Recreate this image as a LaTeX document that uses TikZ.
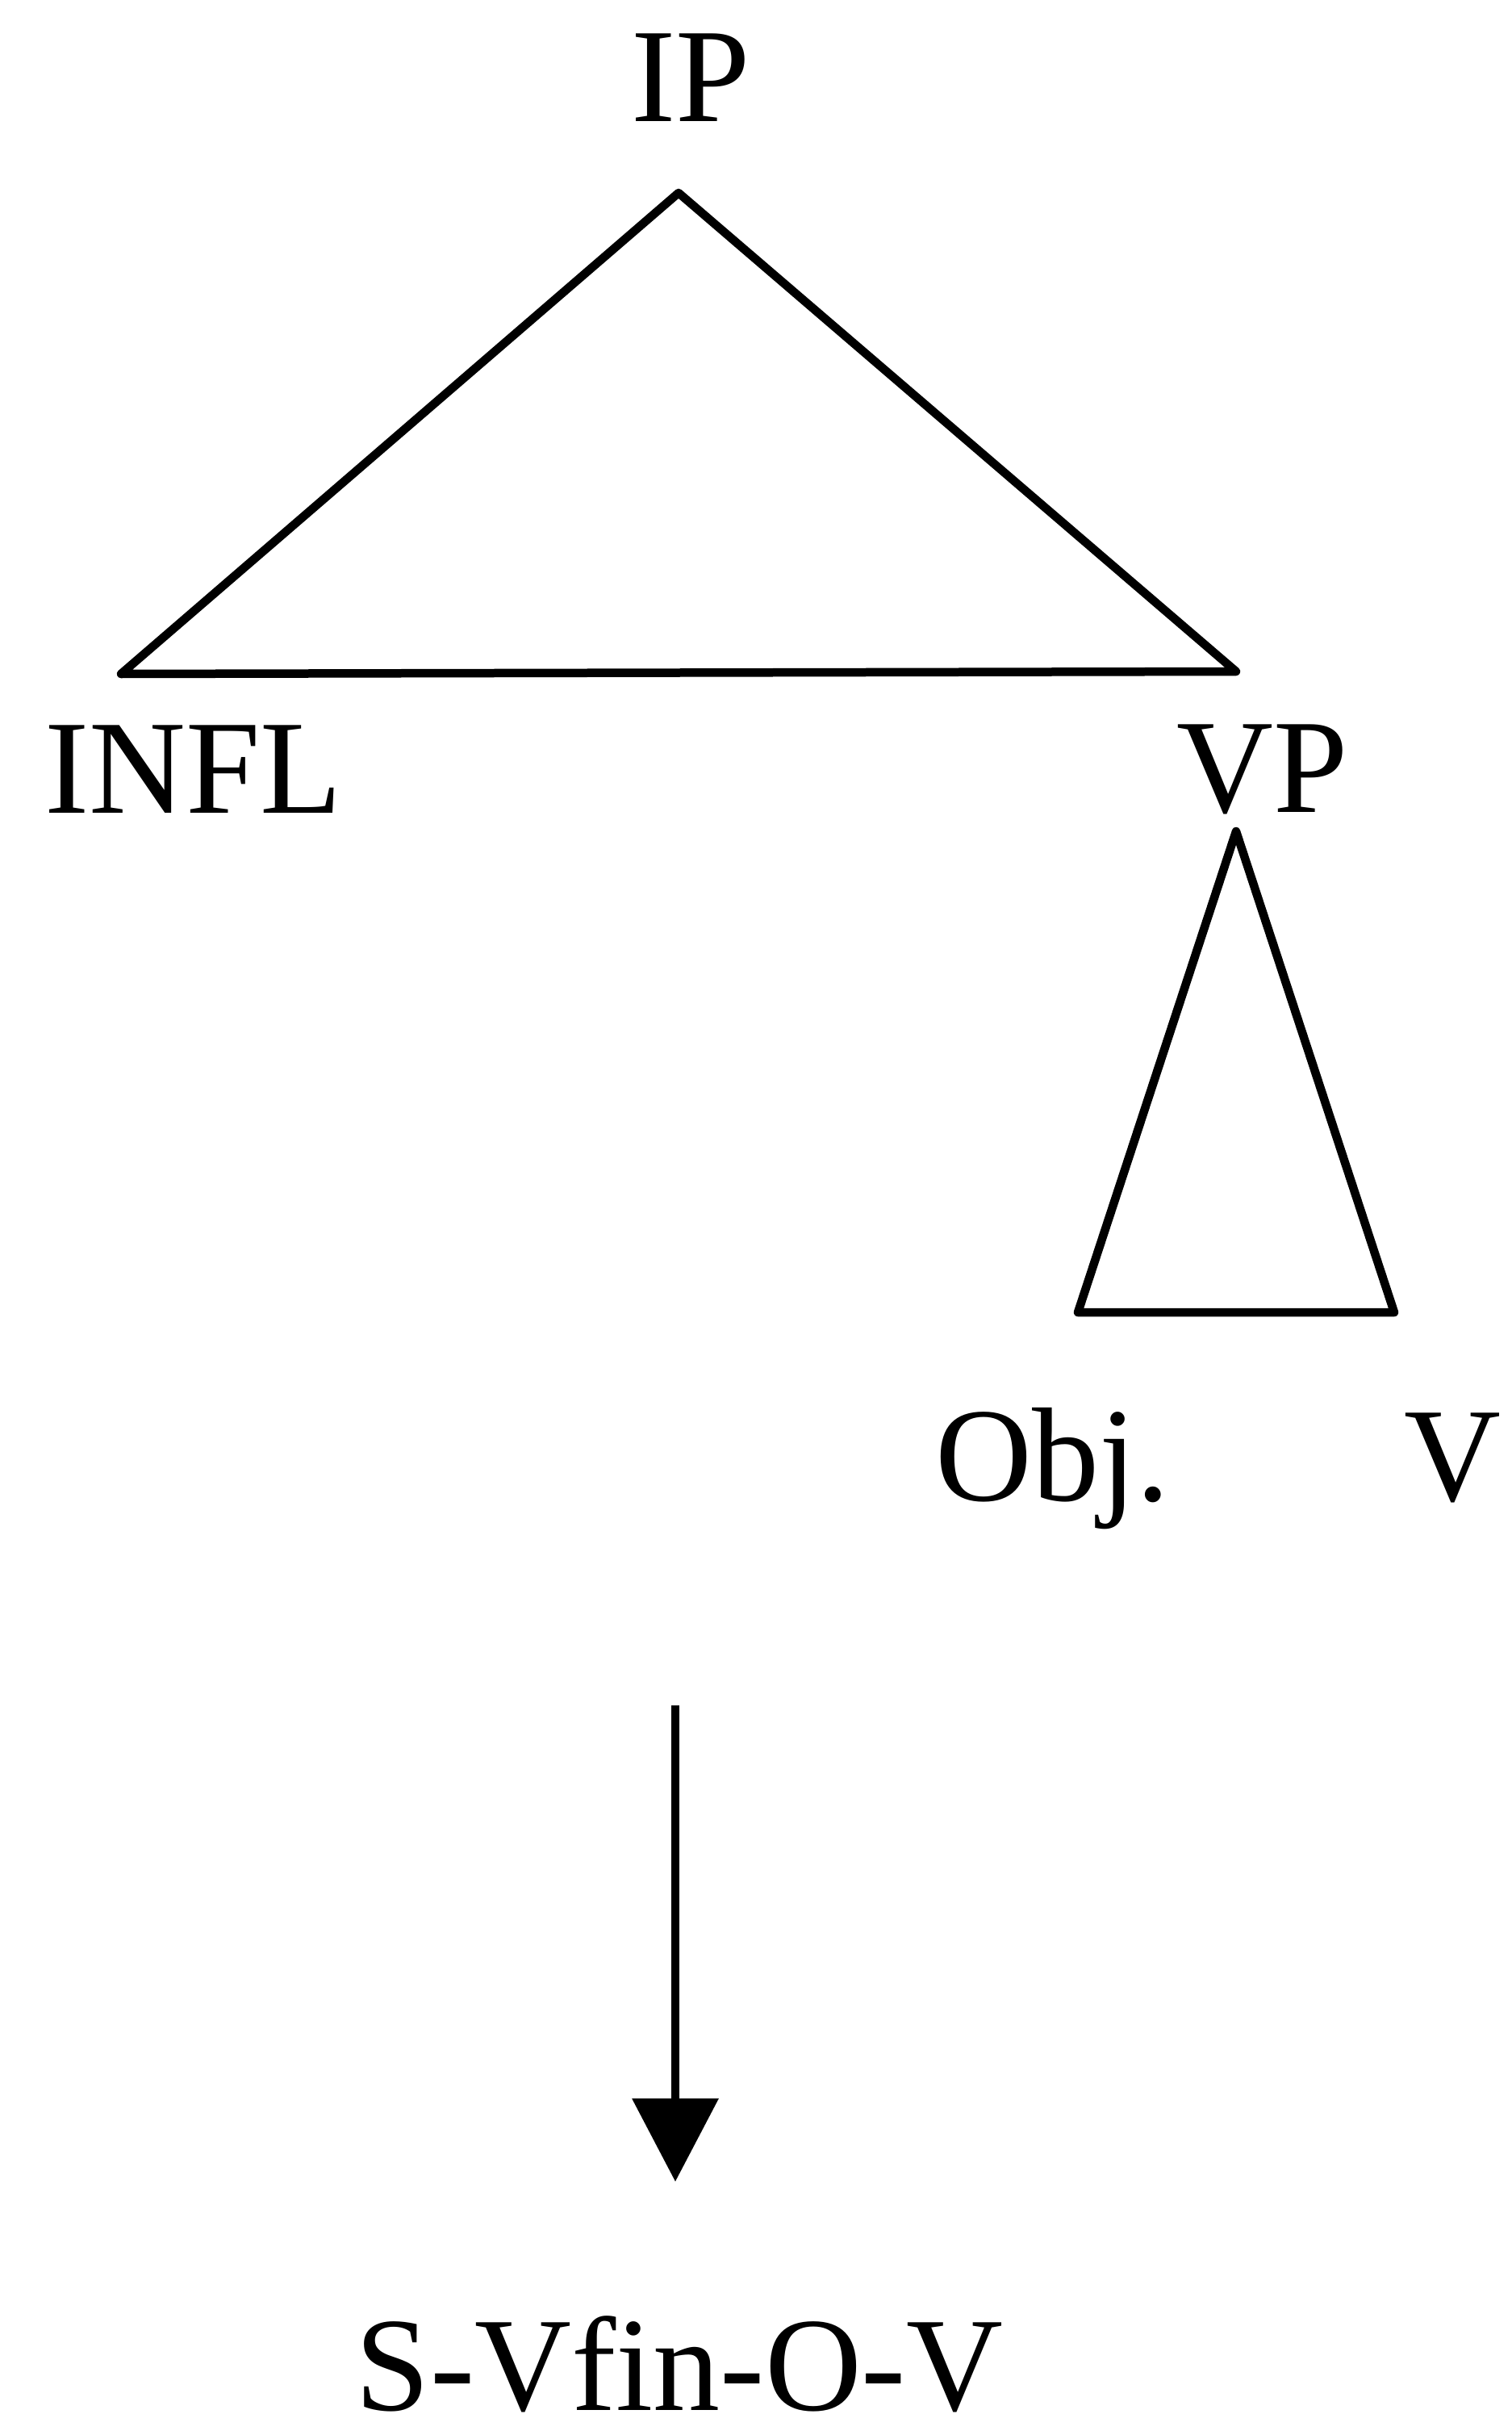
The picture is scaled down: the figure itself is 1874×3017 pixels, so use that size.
\documentclass[tikz,border=0pt]{standalone}
\usepackage{fontspec}
\setmainfont{Liberation Serif}
\usetikzlibrary{arrows.meta}
\tikzset{
  lbl/.style={anchor=base, inner sep=0pt, font=\fontsize{16.6}{20}\selectfont},
  tri/.style={draw=black, line width=1.05pt, line join=round},
  arr/.style={draw=black, line width=1.05pt, -{Triangle[width=10.5pt,length=10.3pt]}}
}
\begin{document}
\begin{tikzpicture}[x=0.1pt,y=-0.1pt]
\useasboundingbox[fill=white] (0,0) rectangle (1874,3017);
% labels
\node[lbl] (ip) at (856,151) {IP};
\node[lbl] (infl) at (240,1007) {INFL};
\node[lbl] (vp) at (1565,1006) {VP};
\node[lbl] (obj) at (1305,1859) {Obj.};
\node[lbl] (v) at (1800,1859) {V};
\node[lbl] (out) at (842,2986) {S-Vfin-O-V};
% big triangle
\coordinate (ipA) at (841,239);
\coordinate (ipL) at (150,835);
\coordinate (ipR) at (1532,832);
\draw[tri] (ipA) -- (ipL) -- (ipR) -- cycle;
% small triangle
\coordinate (vpA) at (1532,1030);
\coordinate (vpL) at (1336,1626);
\coordinate (vpR) at (1728,1626);
\draw[tri] (vpA) -- (vpL) -- (vpR) -- cycle;
% arrow
\coordinate (aS) at (837,2113);
\coordinate (aE) at (837,2703);
\draw[arr] (aS) -- (aE);
\end{tikzpicture}
\end{document}
